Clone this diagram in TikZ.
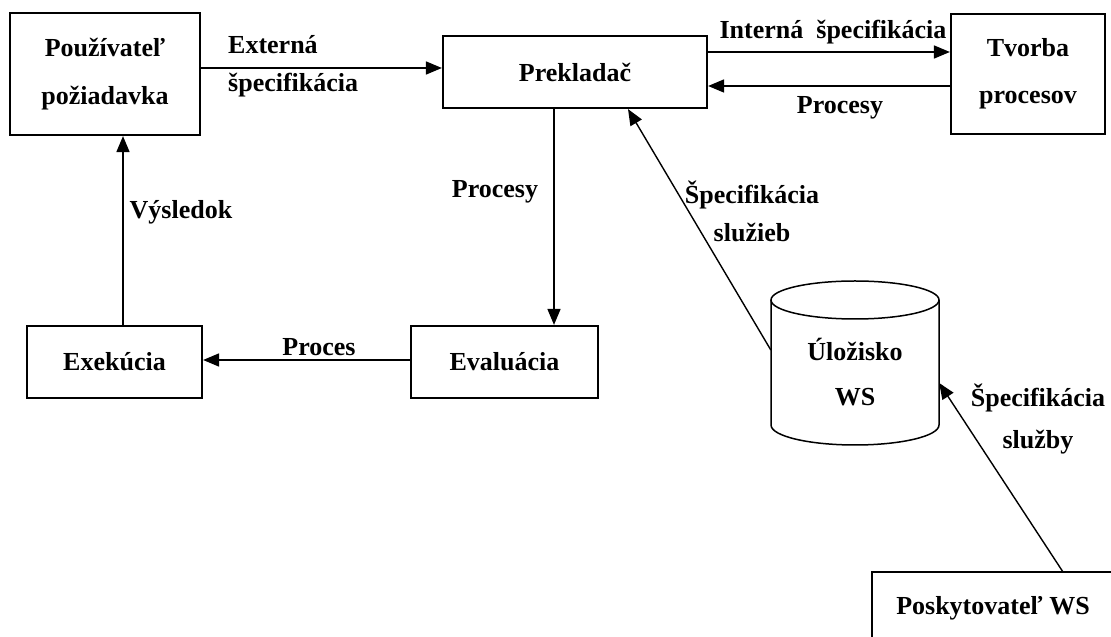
\documentclass[tikz,border=0pt]{standalone}
\usepackage{fontspec}
\setmainfont{Liberation Serif}
\usetikzlibrary{arrows.meta}
\begin{document}
\begin{tikzpicture}[x=1pt,y=1pt,
  box/.style={draw, line width=2.2pt, font=\bfseries\fontsize{26}{48}\selectfont, align=center, inner sep=0pt},
  lbl/.style={font=\bfseries\fontsize{26}{38}\selectfont, align=center, inner sep=0pt},
  arr/.style={line width=1.6pt, -{Triangle[length=16pt,width=13pt]}},
  diag/.style={line width=1.4pt, -{Triangle[length=16pt,width=13pt]}},
  cyl/.style={line width=1.5pt},
]
\clip (0,0) rectangle (1111,637);
\fill[white] (0,0) rectangle (1111,637);
% boxes
\node[box, minimum width=190pt, minimum height=122pt] (user) at (105,563) {Používateľ\\požiadavka};
\node[box, minimum width=264pt, minimum height=72pt] (prek) at (575,565) {Prekladač};
\node[box, minimum width=154pt, minimum height=120pt, font=\bfseries\fontsize{26}{47}\selectfont] (tvorba) at (1028,563) {Tvorba\\procesov};
\node[box, minimum width=187pt, minimum height=72pt] (eval) at (504.5,275) {Evaluácia};
\node[box, minimum width=175pt, minimum height=72pt] (exek) at (114.5,275) {Exekúcia};
% storage cylinder
\node[minimum width=168pt, minimum height=164pt, inner sep=0pt] (store) at (855,274) {};
\draw[cyl] (771,337) -- (771,212) arc[start angle=180,end angle=360,x radius=84,y radius=20] -- (939,337);
\draw[cyl] (855,337) ellipse [x radius=84, y radius=19];
\node[lbl, font=\bfseries\fontsize{26}{45}\selectfont] (storetxt) at (855,264.5) {Úložisko\\WS};
% provider box (cut by the page edge)
\node[lbl] (posk) at (993,29) {Poskytovateľ WS};
\draw[line width=2.2pt] (872,-10) |- (1125,65);
\coordinate (posktop) at (1063,65);
% connectors
\draw[arr] ([yshift=6pt]user.east) -- ([yshift=4pt]prek.west);
\draw[arr] ([yshift=20pt]prek.east) -- ([yshift=22pt]tvorba.west);
\draw[arr] ([yshift=-12pt]tvorba.west) -- ([yshift=-14pt]prek.east);
\draw[arr] ([xshift=-21pt]prek.south) -- ([xshift=49.5pt]eval.north);
\draw[arr] ([yshift=2pt]eval.west) -- ([yshift=2pt]exek.east);
\draw[arr] ([xshift=8.5pt]exek.north) -- ([xshift=18pt]user.south);
\draw[diag] ([yshift=13pt]store.west) -- ([xshift=53pt]prek.south);
\draw[diag] (posktop) -- ([yshift=-20pt]store.east);
% labels
\node[lbl, anchor=west, align=left] (lext) at (228,571) {Externá\\špecifikácia};
\node[lbl] (lint) at (833,605) {Interná\hspace{0.5em}špecifikácia};
\node[lbl] (lproc1) at (840,529) {Procesy};
\node[lbl] (lproc2) at (495,445) {Procesy};
\node[lbl] (lvys) at (181,425) {Výsledok};
\node[lbl] (lproc3) at (319,290) {Proces};
\node[lbl] (lsluzieb) at (752,426) {Špecifikácia\\služieb};
\node[lbl, font=\bfseries\fontsize{26}{42}\selectfont] (lsluzby) at (1038,218) {Špecifikácia\\služby};
\end{tikzpicture}
\end{document}
